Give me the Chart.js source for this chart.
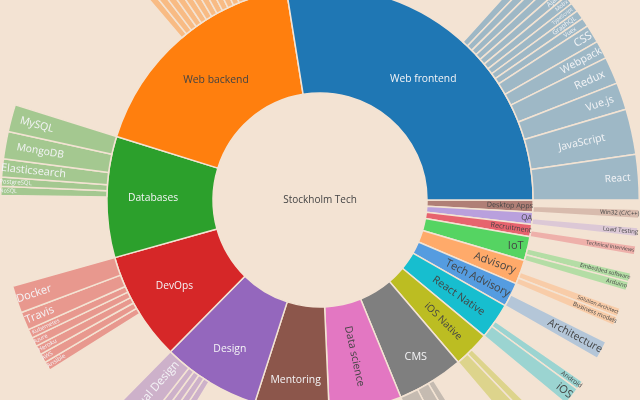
<!DOCTYPE html>
<html>
<head>
<meta charset="utf-8">
<style>
html,body{margin:0;padding:0;width:640px;height:400px;overflow:hidden;background:#f3e3d3}
#wrap{position:absolute;left:0;top:-120px;width:640px;height:640px}
</style>
<script src="https://cdn.jsdelivr.net/npm/chart.js@4/dist/chart.umd.min.js"></script>
</head>
<body>
<div id="wrap"><canvas id="c" width="640" height="640"></canvas></div>
<script>
// ---- data: clockwise from 3 o'clock ----
const centerTitle = "Stockholm Tech";
const parentNames = ["Desktop Apps","QA","Recruitment","IoT","Advisory","Tech Advisory","React Native","iOS Native","CMS","Data science","Mentoring","Design","DevOps","Databases","Web backend","Web frontend"];
const parentValues = [2,2,2,4,4,4,6,6,11,12,12.3,16.2,18,20,38.5,60];
const childParents = [
 "Desktop Apps","QA","Recruitment","IoT","IoT","Advisory","Advisory","Tech Advisory",
 "React Native","React Native","iOS Native","iOS Native","CMS","CMS","CMS",
 "Design","Design","Design","Design","Design",
 "DevOps","DevOps","DevOps","DevOps","DevOps","DevOps","DevOps",
 "Databases","Databases","Databases","Databases","Databases",
 "Web backend","Web backend","Web backend","Web backend","Web backend","Web backend","Web backend","Web backend","Web backend","Web backend","Web backend","Web backend","Web backend","Web backend",
 "Web frontend","Web frontend","Web frontend","Web frontend","Web frontend","Web frontend","Web frontend","Web frontend","Web frontend","Web frontend","Web frontend","Web frontend","Web frontend","Web frontend","Web frontend"];
const childNames = [
 "Win32 (C/C++)","Load Testing","Technical Interviews","Arduino","Embedded software","Business models","Solution Architect","Architecture",
 "iOS","Android","","","","","",
 "Visual Design","","","","",
 "Docker","Travis","Kubernetes","Azure","Heroku","AWS","Ansible",
 "MySQL","MongoDB","Elasticsearch","PostgreSQL","NoSQL",
 "","","","","","","","","","","","","","",
 "React","JavaScript","Vue.js","Redux","Webpack","CSS","Vuex","GraphQL","TypeScript","Mobx","Ajax","","","",""];
const childValues = [
 1,1,1,1,1,1,1,2,
 2,1,2,1,3,2,1,
 4,1,1,1,1,
 3,2,1,1,1,1,1,
 3,3,2,1,1,
 4,3,1,1,1,1,1,1,1,1,1,1,1,1,
 5,5,3,3,2,2,1,1,1,1,1,1,1,1,1];

// ---- styles ----
const pageBg = "#f3e3d3";
const parentColors = {"Web frontend":"31,119,180","Web backend":"255,127,14","Databases":"44,160,44","DevOps":"214,39,40","Design":"148,103,189","Mentoring":"140,86,75","Data science":"227,119,194","CMS":"127,127,127","iOS Native":"188,189,34","React Native":"23,190,207","Tech Advisory":"85,156,224","Advisory":"255,170,106","IoT":"85,212,98","Recruitment":"231,99,110","QA":"185,160,221","Desktop Apps":"176,127,118"};
const lightText = new Set(["Web frontend","Databases","DevOps","Design","Mentoring","CMS"]);
const upright = new Set(["Web frontend","Web backend","Databases","DevOps","Design","Mentoring","CMS","IoT"]);
// font size, label distance from centre
const labelLook = {
 "Web frontend":[10.3,159],"Web backend":[10.4,159],"Databases":[10.3,167],"DevOps":[10.2,169],"Design":[10.4,174],"Mentoring":[10.4,182],"Data science":[10.5,160],"CMS":[10.8,184],"iOS Native":[10,173],"React Native":[10.5,168.5],"Tech Advisory":[11,176],"Advisory":[11,186],"IoT":[11,201],"Recruitment":[7.2,193],"QA":[8,207.5],"Desktop Apps":[7.2,190],
 "React":[10,298.5],"JavaScript":[10.5,268],"Vue.js":[10.5,296],"Redux":[11,295],"Webpack":[10.5,296],"CSS":[11,308],"Vuex":[6,301],"GraphQL":[6.5,300],"TypeScript":[5,304],"Mobx":[5.5,310],"Ajax":[7,306],
 "MySQL":[10.6,293],"MongoDB":[10.3,284],"Elasticsearch":[10.8,288],"PostgreSQL":[6,305],"NoSQL":[5.5,312],
 "Docker":[11,301],"Travis":[11,303],"Kubernetes":[5.5,302],"Azure":[5.5,312],"Heroku":[6,309],"AWS":[5.5,314],"Ansible":[6,309],
 "Win32 (C/C++)":[6,300],"Load Testing":[6,302],"Technical Interviews":[5.2,294],"Embedded software":[5.5,294],"Arduino":[5.8,308],"Solution Architect":[5.3,297],"Business models":[6,297],"Architecture":[10.5,289],"Android":[6.5,309],"iOS":[11,310],"Visual Design":[11.5,252]
};

// ---- build the two rings ----
const outerValues=[], outerColors=[], outerBorders=[], outerNames=[], outerParents=[];
parentNames.forEach((p,i)=>{
  const idx = childParents.map((q,k)=>q===p?k:-1).filter(k=>k>=0);
  const used = idx.reduce((s,k)=>s+childValues[k],0);
  outerValues.push(parentValues[i]-used); outerColors.push("rgba(0,0,0,0)"); outerBorders.push(0); outerNames.push(""); outerParents.push(p);
  idx.slice().reverse().forEach(k=>{
    outerValues.push(childValues[k]); outerColors.push("rgba("+parentColors[p]+",0.4)"); outerBorders.push(1.5); outerNames.push(childNames[k]); outerParents.push(p);
  });
});

function put(ctx,name,arc,light){
  const look = labelLook[name]; if(!look) return;
  const mid = (arc.startAngle+arc.endAngle)/2;
  const px = arc.x+Math.cos(mid)*look[1], py = arc.y+Math.sin(mid)*look[1];
  let rot = upright.has(name)?0:mid;
  const c = Math.cos(mid);
  if(!upright.has(name) && c<0) rot = mid+Math.PI;
  ctx.save();
  ctx.translate(px,py); ctx.rotate(rot);
  ctx.font = look[0]+'px "Open Sans"';
  ctx.textAlign="center"; ctx.textBaseline="middle";
  ctx.fillStyle = light?"#f4f4f6":"#444";
  ctx.fillText(name,0,0);
  ctx.restore();
}
const labelsPlugin = {
  id:"sunburstLabels",
  afterDatasetsDraw(chart){
    const ctx = chart.ctx;
    const om = chart.getDatasetMeta(0).data, im = chart.getDatasetMeta(1).data;
    om.forEach((a,i)=>{ if(outerNames[i]) put(ctx,outerNames[i],a,lightText.has(outerParents[i])); });
    im.forEach((a,i)=>put(ctx,parentNames[i],a,lightText.has(parentNames[i])));
    const a0 = im[0];
    ctx.save();
    ctx.font='10px "Open Sans"';ctx.textAlign="center";ctx.textBaseline="middle";ctx.fillStyle="#444";
    ctx.fillText(centerTitle,a0.x,a0.y);
    ctx.restore();
  }
};
new Chart(document.getElementById("c"),{
  type:"doughnut",
  data:{
    labels:parentNames,
    datasets:[
      {data:outerValues,backgroundColor:outerColors,borderColor:pageBg,borderWidth:outerBorders,hoverOffset:0},
      {data:parentValues,backgroundColor:parentNames.map(p=>"rgb("+parentColors[p]+")"),borderColor:pageBg,borderWidth:1.5,hoverOffset:0}
    ]
  },
  options:{
    responsive:false,animation:false,devicePixelRatio:1,
    rotation:90,cutout:107,
    layout:{padding:0},
    plugins:{legend:{display:false},tooltip:{enabled:false}},
    events:[]
  },
  plugins:[labelsPlugin]
});
</script>
</body>
</html>
